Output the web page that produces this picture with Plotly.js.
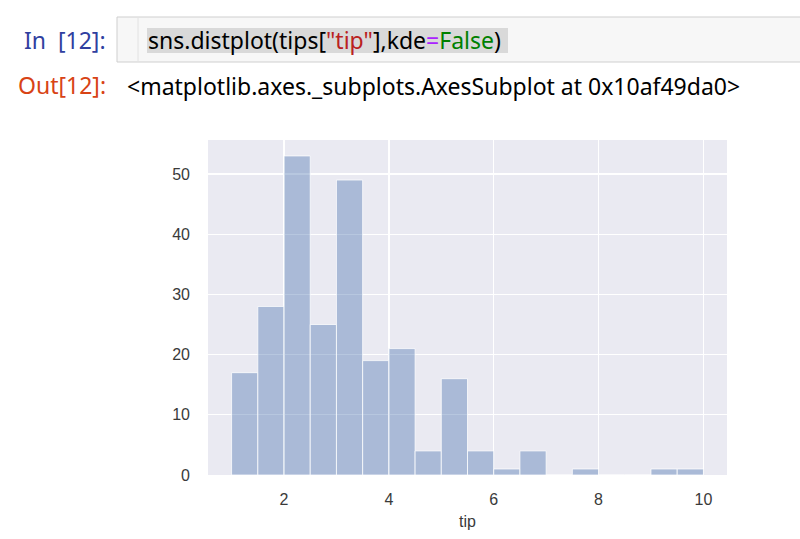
<!DOCTYPE html>
<html>
<head>
<meta charset="utf-8">
<script src="https://cdn.plot.ly/plotly-3.0.1.min.js"></script>
<style>
  html, body { margin: 0; padding: 0; background: #ffffff; }
  #chart { width: 800px; height: 539px; }
</style>
</head>
<body>
<div id="chart"></div>
<script>
// Histogram of tips["tip"] (18 bins of width 0.5 from 1.0 to 10.0)
const binStarts = [1.0, 1.5, 2.0, 2.5, 3.0, 3.5, 4.0, 4.5, 5.0, 5.5, 6.0, 6.5, 7.0, 7.5, 8.0, 8.5, 9.0, 9.5];
const counts    = [17, 28, 53, 25, 49, 19, 21, 4, 16, 4, 1, 4, 0, 1, 0, 0, 1, 1];
const binWidth = 0.5;
const xTicks = [2, 4, 6, 8, 10];
const yTicks = [0, 10, 20, 30, 40, 50];
const xLabel = "tip";
const inPrompt = "In&nbsp;&nbsp;[12]:";
const outPrompt = "Out[12]:";
const outText = "&lt;matplotlib.axes._subplots.AxesSubplot at 0x10af49da0&gt;";

const W = 800, H = 539;
const L = 208, R = 727, T = 140, B = 475;
const px = x => (x - L) / (R - L);
const py = y => (B - y) / (B - T);

const codeHtml =
  '<span style="color:#000000">sns.distplot(tips[</span>' +
  '<span style="color:#BA2121">"tip"</span>' +
  '<span style="color:#000000">],kde</span>' +
  '<span style="color:#AA22FF">=</span>' +
  '<span style="color:#008000">False</span>' +
  '<span style="color:#000000">)</span>';

const trace = {
  type: 'bar',
  x: binStarts,
  y: counts,
  width: binStarts.map(() => binWidth),
  offset: 0,
  marker: {
    color: 'rgba(76,114,176,0.4)',
    line: { color: 'rgba(255,255,255,0.75)', width: 1 }
  },
  hoverinfo: 'x+y'
};

const nbFont = { family: 'Noto Sans, Liberation Sans, sans-serif', size: 23 };
const axFont = 'Liberation Sans, Arial, sans-serif';

const layout = {
  width: W, height: H,
  margin: { l: L, r: W - R, t: T, b: H - B, pad: 0 },
  paper_bgcolor: '#ffffff',
  plot_bgcolor: '#EAEAF2',
  showlegend: false,
  bargap: 0,
  xaxis: {
    range: [0.55, 10.45],
    tickvals: xTicks,
    ticktext: xTicks.map(String),
    showgrid: true, gridcolor: '#ffffff', gridwidth: 1.3,
    zeroline: false, showline: false,
    ticks: '', ticklabelstandoff: 13,
    tickfont: { family: axFont, size: 16, color: '#3a3a3a' },
    title: { text: xLabel, standoff: 8,
      font: { family: axFont, size: 16, color: '#3a3a3a' } }
  },
  yaxis: {
    range: [0, 55.65],
    tickvals: yTicks,
    ticktext: yTicks.map(String),
    showgrid: true, gridcolor: '#ffffff', gridwidth: 1.3,
    zeroline: false, showline: false,
    ticks: '', ticklabelstandoff: 17,
    tickfont: { family: axFont, size: 16, color: '#3a3a3a' }
  },
  shapes: [
    { type: 'rect', xref: 'paper', yref: 'paper',
      x0: px(117), x1: px(806), y0: py(62), y1: py(17),
      fillcolor: '#f7f7f7', line: { color: '#cfcfcf', width: 1 }, layer: 'above' },
    { type: 'line', xref: 'paper', yref: 'paper',
      x0: px(138), x1: px(138), y0: py(61), y1: py(18),
      line: { color: '#e2e2e2', width: 1 }, layer: 'above' },
    { type: 'rect', xref: 'paper', yref: 'paper',
      x0: px(147), x1: px(508), y0: py(53), y1: py(28),
      fillcolor: '#d9d9d9', line: { width: 0 }, layer: 'above' }
  ],
  annotations: [
    { xref: 'paper', yref: 'paper', x: px(108), y: py(40), xanchor: 'right', yanchor: 'middle',
      text: inPrompt, showarrow: false, font: Object.assign({}, nbFont, { color: '#303F9F' }) },
    { xref: 'paper', yref: 'paper', x: px(146), y: py(40), xanchor: 'left', yanchor: 'middle',
      text: codeHtml, showarrow: false, font: Object.assign({}, nbFont, { color: '#000000' }) },
    { xref: 'paper', yref: 'paper', x: px(108), y: py(85), xanchor: 'right', yanchor: 'middle',
      text: outPrompt, showarrow: false, font: Object.assign({}, nbFont, { color: '#D84315' }) },
    { xref: 'paper', yref: 'paper', x: px(125), y: py(86), xanchor: 'left', yanchor: 'middle',
      text: outText, showarrow: false, font: Object.assign({}, nbFont, { color: '#000000' }) }
  ]
};

Plotly.newPlot('chart', [trace], layout, { displayModeBar: false, staticPlot: true });
</script>
</body>
</html>
